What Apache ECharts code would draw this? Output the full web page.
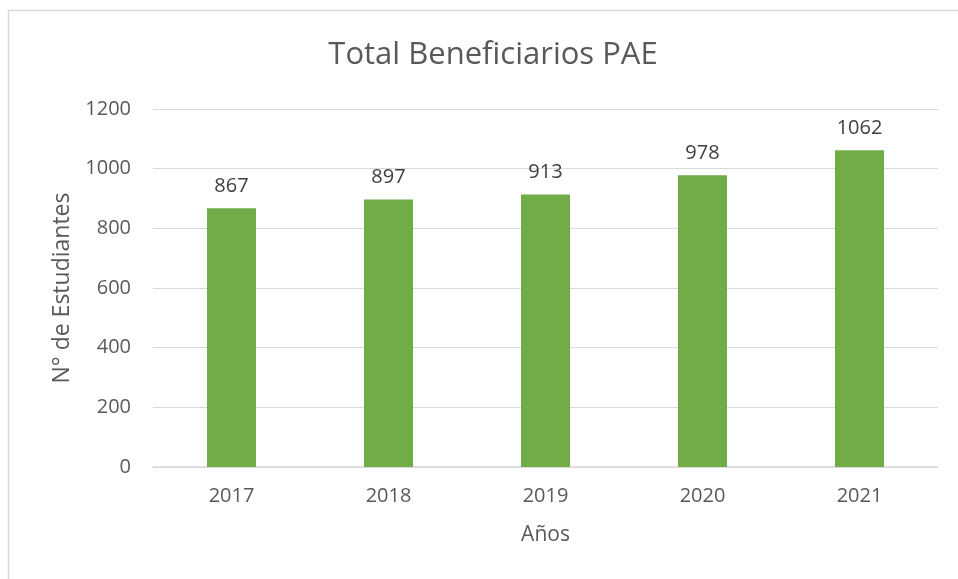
<!DOCTYPE html>
<html>
<head>
<meta charset="utf-8">
<script src="https://cdn.jsdelivr.net/npm/echarts@6/dist/echarts.min.js"></script>
<style>
  html, body { margin: 0; padding: 0; background: #fff; }
  #chart { width: 958px; height: 579px; }
</style>
</head>
<body>
<div id="chart"></div>
<script>
// data
const years = ['2017', '2018', '2019', '2020', '2021'];
const beneficiarios = [867, 897, 913, 978, 1062];

const textColor = '#595959';
const font = '"Open Sans", "Liberation Sans", sans-serif';

const chart = echarts.init(document.getElementById('chart'), null, { renderer: 'canvas' });

chart.setOption({
  animation: false,
  backgroundColor: '#fff',
  textStyle: { fontFamily: font, color: textColor },
  graphic: [{
    type: 'rect',
    shape: { x: 8.5, y: 10.5, width: 960, height: 600 },
    style: { fill: 'none', stroke: '#d9d9d9', lineWidth: 1.5 },
    silent: true
  }],
  title: {
    text: 'Total Beneficiarios PAE',
    left: 488,
    top: 35,
    textAlign: 'center',
    textStyle: { fontFamily: font, fontSize: 31, fontWeight: 'normal', color: textColor }
  },
  grid: { left: 153, right: 20, top: 109, bottom: 112, containLabel: false },
  xAxis: {
    type: 'category',
    data: years,
    name: 'Años',
    nameLocation: 'middle',
    nameGap: 58,
    nameTextStyle: { fontSize: 21, color: textColor, fontFamily: font },
    axisLine: { lineStyle: { color: '#d9d9d9', width: 1.5 } },
    axisTick: { show: false },
    axisLabel: { fontSize: 20, color: textColor, margin: 19, fontFamily: font }
  },
  yAxis: {
    type: 'value',
    min: 0,
    max: 1200,
    interval: 200,
    name: 'N° de Estudiantes',
    nameLocation: 'middle',
    nameGap: 78,
    nameTextStyle: { fontSize: 23, color: textColor, fontFamily: font },
    axisLine: { show: false },
    axisTick: { show: false },
    axisLabel: { fontSize: 20, color: textColor, margin: 22, fontFamily: font, formatter: v => String(v) },
    splitLine: { lineStyle: { color: '#d9d9d9', width: 1 } }
  },
  series: [{
    type: 'bar',
    data: beneficiarios,
    barWidth: 49,
    itemStyle: { color: '#70AD47' },
    label: {
      show: true,
      position: 'top',
      distance: 12,
      fontSize: 20,
      color: '#404040',
      fontFamily: font
    }
  }]
});
</script>
</body>
</html>
